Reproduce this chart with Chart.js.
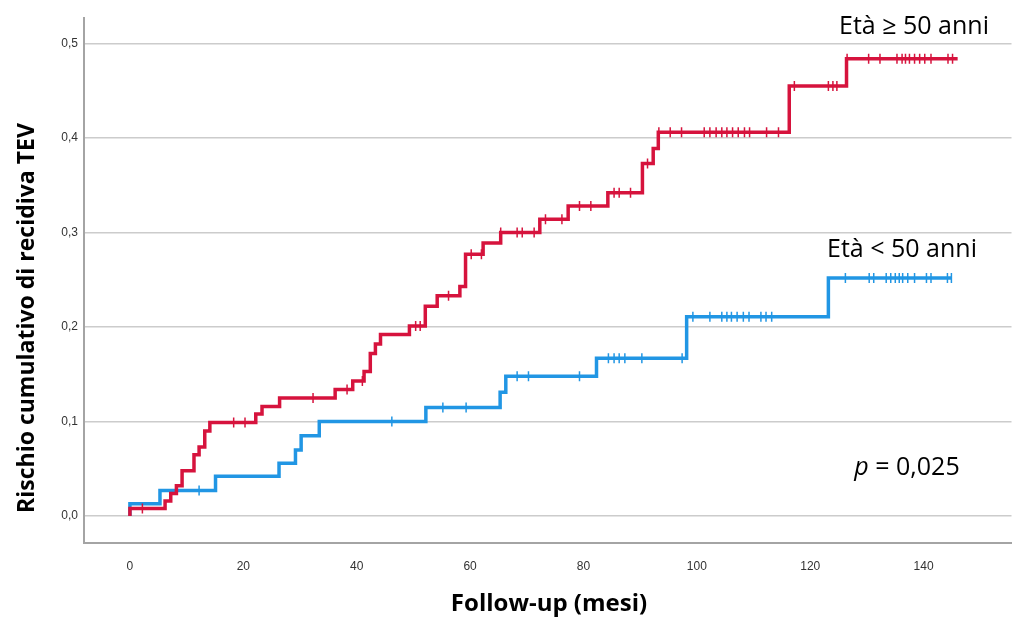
<!DOCTYPE html>
<html><head><meta charset="utf-8">
<script src="https://cdn.jsdelivr.net/npm/chart.js@4/dist/chart.umd.min.js"></script>
<style>html,body{margin:0;padding:0;background:#fff;}canvas{display:block}</style>
</head><body>
<canvas id="c" width="1018" height="620"></canvas>
<script>
// ---- data (months, cumulative risk) ----
const xTicks = [0, 20, 40, 60, 80, 100, 120, 140];
const yTicks = [0, 0.1, 0.2, 0.3, 0.4, 0.5];
const yTickLabels = ['0,0', '0,1', '0,2', '0,3', '0,4', '0,5'];

const oldLabel = 'Età ≥ 50 anni';
const oldTimes = [0, 0, 6.2, 7.2, 8.2, 9.2, 11.3, 12.2, 13.2, 14.1, 22.2, 23.3, 26.4, 36.2, 39.3, 41.3, 42.4, 43.3, 44.2, 49.3, 52.1, 54.2, 58.2, 59.2, 62.3, 65.4, 72.3, 77.3, 84.3, 90.4, 92.3, 93.2, 116.3, 126.4, 146.0];
const oldRisk  = [0, 0.008, 0.016, 0.024, 0.032, 0.048, 0.065, 0.073, 0.090, 0.099, 0.108, 0.116, 0.125, 0.134, 0.143, 0.153, 0.172, 0.182, 0.192, 0.201, 0.222, 0.233, 0.243, 0.277, 0.289, 0.300, 0.314, 0.328, 0.342, 0.373, 0.389, 0.406, 0.455, 0.484, 0.484];
const oldCensored = [2.2, 18.3, 20.3, 32.3, 38.3, 41.0, 50.4, 51.2, 56.2, 60.2, 62.0, 65.4, 68.3, 69.2, 71.3, 73.3, 76.2, 79.3, 81.3, 85.4, 86.3, 88.3, 91.3, 93.3, 95.3, 97.3, 101.3, 102.3, 103.4, 104.4, 105.3, 106.3, 107.3, 108.4, 109.3, 112.3, 114.4, 117.2, 123.2, 124.0, 124.7, 126.5, 130.3, 132.3, 135.3, 136.2, 136.8, 137.5, 138.4, 139.3, 140.2, 141.3, 144.3, 145.1];

const youngLabel = 'Età < 50 anni';
const youngTimes = [0, 0, 5.3, 15.1, 26.3, 29.2, 30.2, 33.4, 52.2, 65.3, 66.3, 82.3, 98.2, 123.2, 144.9];
const youngRisk  = [0, 0.013, 0.027, 0.042, 0.056, 0.070, 0.085, 0.100, 0.115, 0.131, 0.148, 0.167, 0.211, 0.252, 0.252];
const youngCensored = [12.2, 46.2, 55.2, 59.3, 68.3, 70.3, 79.3, 84.4, 85.4, 86.3, 87.3, 90.3, 97.4, 99.3, 102.3, 104.4, 105.3, 106.1, 107.1, 108.2, 109.2, 111.3, 112.2, 113.2, 126.2, 130.4, 131.2, 133.4, 134.2, 135.0, 135.7, 136.3, 137.2, 138.4, 140.5, 141.3, 144.2, 144.9];

const pLabel = '= 0,025';
const xTitle = 'Follow-up (mesi)';
const yTitle = 'Rischio cumulativo di recidiva TEV';

// ---- helpers ----
const RED = '#d6133d';
const BLUE = '#2196e4';
function riskAt(times, risk, t) {
  let v = risk[0];
  for (let i = 0; i < times.length; i++) if (times[i] <= t + 1e-9) v = risk[i];
  return v;
}
const curve = (times, risk) => times.map((t, i) => ({x: t, y: risk[i]}));
const marks = (cens, times, risk) => cens.map(t => ({x: t, y: riskAt(times, risk, t)}));

const textPlugin = {
  id: 'texts',
  afterDraw(chart) {
    const ctx = chart.ctx;
    ctx.save();
    ctx.fillStyle = '#000';
    ctx.textBaseline = 'middle';
    ctx.textAlign = 'center';
    ctx.font = '25px "Open Sans"';
    ctx.fillText(oldLabel, 914, 27);
    ctx.fillText(youngLabel, 902, 250);
    // p value
    ctx.textAlign = 'left';
    ctx.font = 'italic 25px "Open Sans"';
    const pw = ctx.measureText('p').width;
    ctx.font = '25px "Open Sans"';
    const rest = ' ' + pLabel;
    const rw = ctx.measureText(rest).width;
    const x0 = 907 - (pw + rw) / 2;
    ctx.font = 'italic 25px "Open Sans"';
    ctx.fillText('p', x0, 468);
    ctx.font = '25px "Open Sans"';
    ctx.fillText(rest, x0 + pw, 468);
    // axis titles
    ctx.textAlign = 'center';
    ctx.font = 'bold 24px "Open Sans"';
    ctx.fillText(xTitle, 549, 604);
    ctx.font = 'bold 23px "Open Sans"';
    ctx.translate(27, 318);
    ctx.rotate(-Math.PI / 2);
    ctx.fillText(yTitle, 0, 0);
    ctx.restore();
  }
};

new Chart(document.getElementById('c'), {
  type: 'line',
  data: {
    datasets: [
      {label: oldLabel + ' censored', data: marks(oldCensored, oldTimes, oldRisk), showLine: false,
       pointStyle: 'line', pointRotation: 90, pointRadius: 5, pointBorderWidth: 1.5,
       pointBorderColor: RED, borderColor: RED, order: 0},
      {label: oldLabel, data: curve(oldTimes, oldRisk), stepped: 'before', borderColor: RED,
       borderWidth: 3.5, pointRadius: 0, fill: false, order: 1},
      {label: youngLabel + ' censored', data: marks(youngCensored, youngTimes, youngRisk), showLine: false,
       pointStyle: 'line', pointRotation: 90, pointRadius: 5, pointBorderWidth: 1.5,
       pointBorderColor: BLUE, borderColor: BLUE, order: 2},
      {label: youngLabel, data: curve(youngTimes, youngRisk), stepped: 'before', borderColor: BLUE,
       borderWidth: 3.5, pointRadius: 0, fill: false, order: 3}
    ]
  },
  options: {
    responsive: false,
    animation: false,
    layout: {padding: {top: 18, right: 6, left: 0, bottom: 0}},
    plugins: {legend: {display: false}, tooltip: {enabled: false}},
    scales: {
      x: {
        type: 'linear', min: -8.1, max: 155.5,
        afterBuildTicks: s => { s.ticks = xTicks.map(v => ({value: v})); },
        afterFit: s => { s.height = 77; },
        grid: {display: false},
        border: {display: true, color: '#a4a4a4', width: 2},
        ticks: {color: '#333', font: {family: '"Liberation Sans", Arial', size: 12}, padding: 8, maxRotation: 0,
                callback: v => String(v)}
      },
      y: {
        type: 'linear', min: -0.0285, max: 0.527,
        afterBuildTicks: s => { s.ticks = yTicks.map(v => ({value: v})); },
        afterFit: s => { s.width = 84; },
        grid: {color: '#cccccc', lineWidth: 1.5, drawTicks: false},
        border: {display: true, color: '#a4a4a4', width: 2},
        ticks: {color: '#333', font: {family: '"Liberation Sans", Arial', size: 12}, padding: 6,
                callback: (v, i) => yTickLabels[i]}
      }
    }
  },
  plugins: [textPlugin]
});
</script>
</body></html>
